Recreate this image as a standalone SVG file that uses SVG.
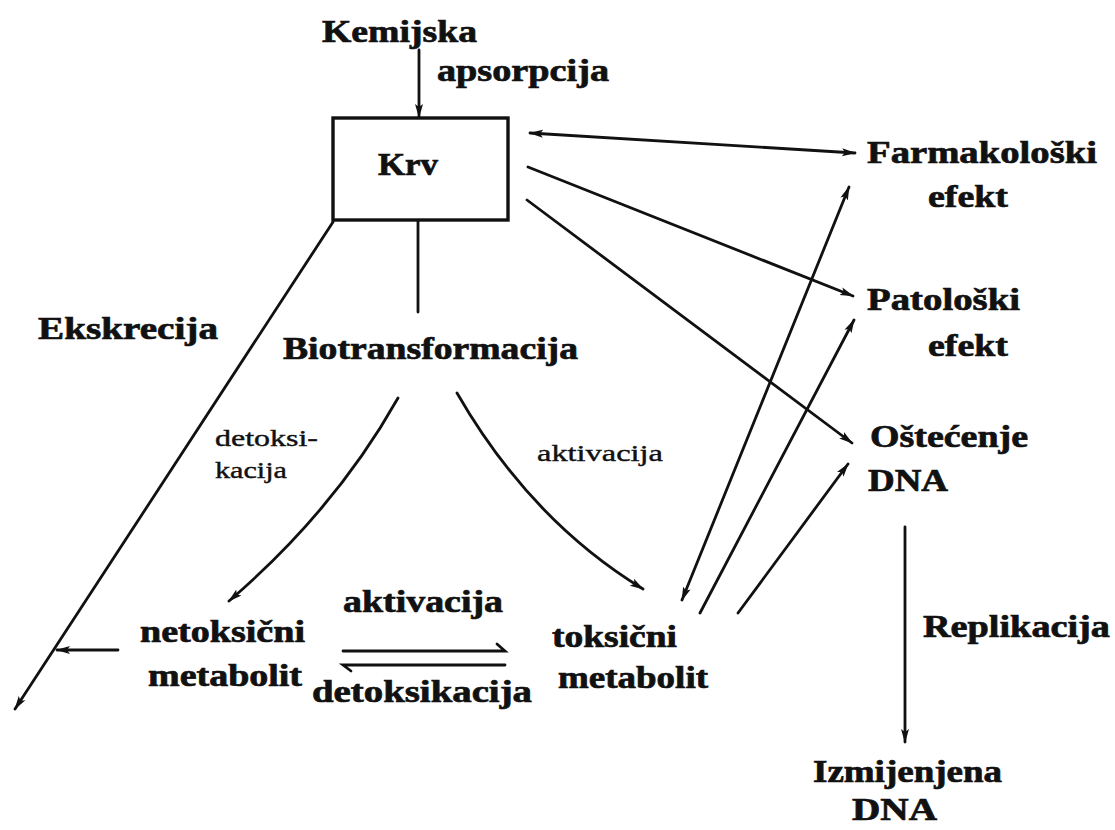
<svg xmlns="http://www.w3.org/2000/svg" width="1115" height="830" viewBox="0 0 1115 830">
<style>
.t{font-family:"Liberation Serif","Times New Roman",serif;font-weight:bold;font-size:31px;fill:#111;stroke:#111;stroke-width:0.7}
.s{font-family:"Liberation Serif","Times New Roman",serif;font-weight:normal;font-size:23px;fill:#111;stroke:#111;stroke-width:0.4}
.c{fill:none;stroke:#111;stroke-width:2.8;stroke-linecap:round}
.a{marker-end:url(#ah)}
.d{marker-start:url(#ah);marker-end:url(#ah)}
</style>
<defs>
<marker id="ah" markerUnits="userSpaceOnUse" markerWidth="14" markerHeight="10" refX="13" refY="5" orient="auto-start-reverse" viewBox="0 0 14 10">
<path d="M0,1 L14,5 L0,9 L3,5 z" fill="#111"/>
</marker>
</defs>
<g id="connectors">
<line class="c a" x1="419" y1="50" x2="419" y2="117"/>
<line class="c" x1="418" y1="221" x2="418" y2="312"/>
<line class="c a" x1="333" y1="222" x2="15" y2="709"/>
<line class="c a" x1="118" y1="650" x2="57" y2="650"/>
<line class="c d" x1="530" y1="133" x2="855" y2="153"/>
<line class="c a" x1="528" y1="167" x2="853" y2="296"/>
<line class="c a" x1="527" y1="200" x2="852" y2="443"/>
<line class="c d" x1="682" y1="600" x2="849" y2="187"/>
<line class="c a" x1="700" y1="613" x2="854" y2="320"/>
<line class="c a" x1="738" y1="613" x2="848" y2="464"/>
<line class="c a" x1="905" y1="527" x2="905" y2="742"/>
<path class="c a" d="M398,398 Q335,510 229,601"/>
<path class="c a" d="M457,393 Q530,520 643,589"/>
<path class="c" d="M343,651 H505 L497,644"/>
<path class="c" d="M505,665 H343 L351,671"/>
</g>
<g id="krv">
<rect x="333" y="118" width="175" height="102" fill="#fff" stroke="#111" stroke-width="3.4"/>
<text class="t" x="378" y="175" textLength="60" lengthAdjust="spacingAndGlyphs">Krv</text>
</g>
<g id="kemijska">
<text class="t" x="322" y="42" textLength="155" lengthAdjust="spacingAndGlyphs">Kemijska</text>
</g>
<g id="apsorpcija">
<text class="t" x="437" y="81" textLength="172" lengthAdjust="spacingAndGlyphs">apsorpcija</text>
</g>
<g id="ekskrecija">
<text class="t" x="38" y="339" textLength="180" lengthAdjust="spacingAndGlyphs">Ekskrecija</text>
</g>
<g id="biotransformacija">
<text class="t" x="283" y="359" textLength="295" lengthAdjust="spacingAndGlyphs">Biotransformacija</text>
</g>
<g id="detoksikacija-small">
<text class="s" x="215" y="446" textLength="103" lengthAdjust="spacingAndGlyphs">detoksi-</text>
<text class="s" x="215" y="478" textLength="72" lengthAdjust="spacingAndGlyphs">kacija</text>
</g>
<g id="aktivacija-small">
<text class="s" x="537" y="461" textLength="126" lengthAdjust="spacingAndGlyphs">aktivacija</text>
</g>
<g id="netoksicni">
<text class="t" x="140" y="642" textLength="165" lengthAdjust="spacingAndGlyphs">netoksični</text>
<text class="t" x="148" y="686" textLength="154" lengthAdjust="spacingAndGlyphs">metabolit</text>
</g>
<g id="aktivacija">
<text class="t" x="343" y="612" textLength="160" lengthAdjust="spacingAndGlyphs">aktivacija</text>
</g>
<g id="detoksikacija">
<text class="t" x="312" y="702" textLength="220" lengthAdjust="spacingAndGlyphs">detoksikacija</text>
</g>
<g id="toksicni">
<text class="t" x="552" y="647" textLength="125" lengthAdjust="spacingAndGlyphs">toksični</text>
<text class="t" x="558" y="688" textLength="150" lengthAdjust="spacingAndGlyphs">metabolit</text>
</g>
<g id="farmakoloski">
<text class="t" x="867" y="163" textLength="230" lengthAdjust="spacingAndGlyphs">Farmakološki</text>
<text class="t" x="928" y="207" textLength="80" lengthAdjust="spacingAndGlyphs">efekt</text>
</g>
<g id="patoloski">
<text class="t" x="867" y="310" textLength="153" lengthAdjust="spacingAndGlyphs">Patološki</text>
<text class="t" x="928" y="356" textLength="80" lengthAdjust="spacingAndGlyphs">efekt</text>
</g>
<g id="ostecenje">
<text class="t" x="870" y="447" textLength="158" lengthAdjust="spacingAndGlyphs">Oštećenje</text>
<text class="t" x="868" y="491" textLength="80" lengthAdjust="spacingAndGlyphs">DNA</text>
</g>
<g id="replikacija">
<text class="t" x="923" y="637" textLength="187" lengthAdjust="spacingAndGlyphs">Replikacija</text>
</g>
<g id="izmijenjena">
<text class="t" x="813" y="782" textLength="189" lengthAdjust="spacingAndGlyphs">Izmijenjena</text>
<text class="t" x="852" y="820" textLength="85" lengthAdjust="spacingAndGlyphs">DNA</text>
</g>
</svg>
